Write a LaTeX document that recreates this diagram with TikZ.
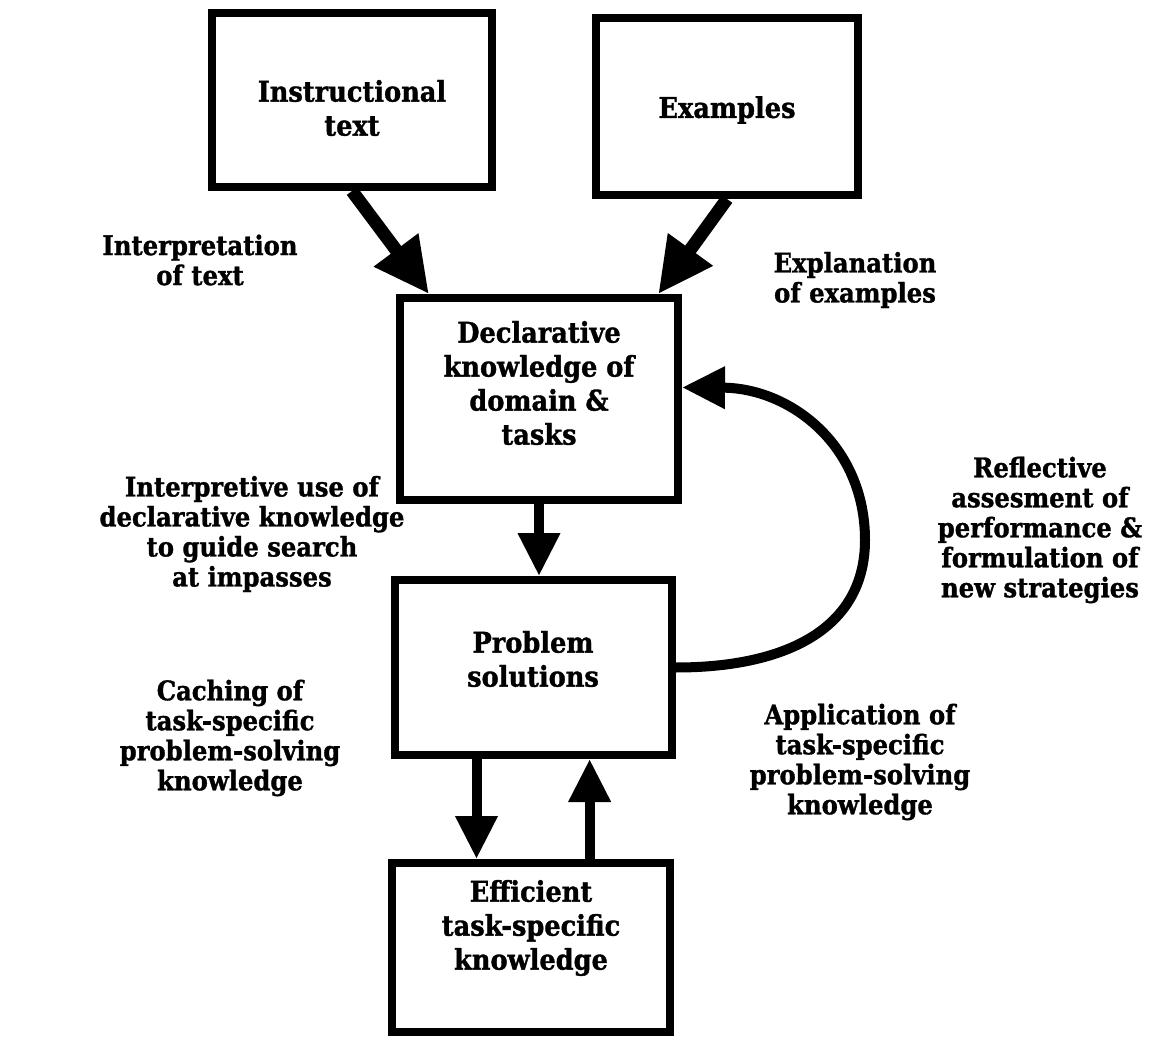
\documentclass[tikz,border=0pt]{standalone}
\usepackage{fontspec}
\setmainfont{DejaVu Serif Condensed}[BoldFeatures={FakeBold=1.2}]
\usetikzlibrary{arrows.meta,calc}
\begin{document}
\begin{tikzpicture}[x=1pt,y=-1pt,
  box/.style={draw, line width=8pt, inner sep=0pt, line join=miter},
  txt/.style={align=center, inner sep=0pt, font=\fontsize{28.5}{34}\selectfont\bfseries},
  lbl/.style={align=center, inner sep=0pt, font=\fontsize{27}{30}\selectfont\bfseries},
  bigarr/.style={line width=13pt, -{Triangle[length=55pt,width=52pt]}},
  arr/.style={line width=10pt, -{Triangle[length=43pt,width=40pt]}}]
\useasboundingbox (0,0) rectangle (1168,1040);
% boxes
\node[box, minimum width=280pt, minimum height=174pt] (B1) at (352,100) {};
\node[box, minimum width=262pt, minimum height=177pt] (B2) at (727,106.5) {};
\node[box, minimum width=278pt, minimum height=202pt] (B3) at (539,399) {};
\node[box, minimum width=277pt, minimum height=175pt] (B4) at (533.5,667.5) {};
\node[box, minimum width=278pt, minimum height=169pt] (B5) at (531,947.5) {};
% box texts
\node[txt] (T1) at (352,108) {Instructional\\text};
\node[txt] (T2) at (727,110) {Examples};
\node[txt] (T3) at (539,383) {Declarative\\knowledge of\\domain \&\\tasks};
\node[txt] (T4) at (533,659) {Problem\\solutions};
\node[txt] (T5) at (531,928) {Efficient\\task-specific\\knowledge};
% labels
\node[lbl] (L1) at (200,260) {Interpretation\\of text};
\node[lbl] (L2) at (855,280) {Explanation\\of examples};
\node[lbl] (L3) at (252,534) {Interpretive use of\\declarative knowledge\\to guide search\\at impasses};
\node[lbl] (L4) at (1040,530) {Reflective\\assesment of\\performance \&\\formulation of\\new strategies};
\node[lbl] (L5) at (230,738) {Caching of\\task-specific\\problem-solving\\knowledge};
\node[lbl] (L6) at (860,762) {Application of\\task-specific\\problem-solving\\knowledge};
% anchor points
\coordinate (B3a) at ($(B3.north west)!0.115!(B3.north east)$);
\coordinate (B3b) at ($(B3.north west)!0.917!(B3.north east)$);
\coordinate (B4d) at ($(B4.south west)!0.3!(B4.south east)$);
\coordinate (B5u) at ($(B5.north west)!0.705!(B5.north east)$);
\coordinate (B3e) at ($(B3.north east)!0.445!(B3.south east)$);
% connectors
\draw[bigarr] (B1.south) -- (B3a);
\draw[bigarr] (B2.south) -- (B3b);
\draw[arr] (B3.south) -- (B3.south |- B4.north);
\draw[arr] (B4d) -- (B4d |- B5.north);
\draw[arr] (B5u) -- (B5u |- B4.south);
\draw[arr] (B4.east) .. controls +(108,0) and (865,630) .. (865,540)
  .. controls (865,445) and (790,388) .. (B3e);
\end{tikzpicture}
\end{document}
